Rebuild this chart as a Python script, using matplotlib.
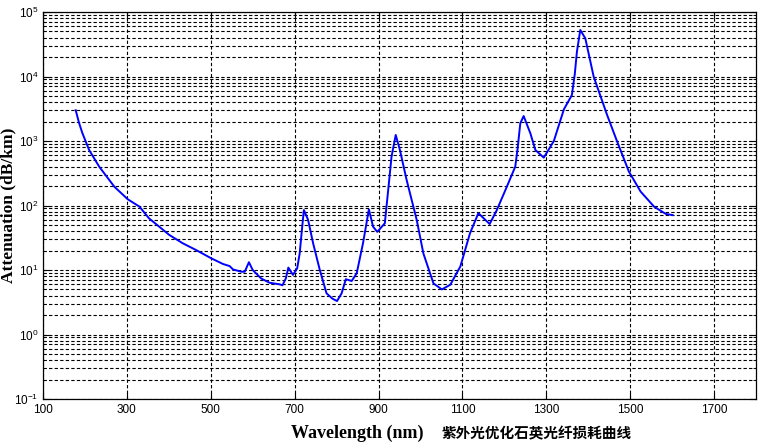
import matplotlib
matplotlib.use("Agg")
import matplotlib.pyplot as plt
from matplotlib.ticker import LogLocator, FixedLocator

# values (nm, dB/km)
wavelength = [178, 186, 194, 210, 234, 270, 302, 330, 353, 377, 401, 433, 465, 501, 529,
              545, 553, 573, 581, 591, 600, 620, 640, 664, 671, 679, 685, 696, 706,
              712, 717, 722, 732, 744, 760, 776, 790, 801, 812, 822, 836, 848, 863, 877,
              887, 897, 915, 924, 931, 941, 951, 967, 991, 1007, 1031, 1051, 1071, 1095,
              1118, 1138, 1165, 1182, 1206, 1226, 1232, 1238, 1246, 1262, 1274, 1294, 1318,
              1342, 1361, 1368, 1373, 1381, 1393, 1413, 1445, 1469, 1497, 1525, 1557, 1585, 1601]
attenuation = [3000, 1900, 1320, 725, 400, 196, 125, 96, 63, 47, 35, 26, 20.4, 15.2, 12.4,
               11.5, 10.2, 9.4, 9.4, 13.2, 10, 7.4, 6.35, 6.0, 5.8, 7.4, 10.9, 8.4, 10.6,
               18, 40, 85, 60, 26, 10, 4.35, 3.6, 3.3, 4.35, 7.2, 6.75, 8.9, 26, 87,
               47, 39, 53, 200, 571, 1240, 725, 249, 60, 18, 6.2, 5.0, 5.9, 11.3,
               37, 76, 51.6, 85, 196, 400, 800, 1880, 2440, 1315, 725, 552, 1000,
               3100, 5160, 11000, 24200, 52600, 39100, 9930, 2530, 977, 335, 164, 96, 74, 71]

x_ticks = [100, 300, 500, 700, 900, 1100, 1300, 1500, 1700]

fig = plt.figure(figsize=(7.76, 4.43), dpi=100)
ax = fig.add_axes([43 / 776, 44 / 443, 713 / 776, 387 / 443])

ax.semilogy(wavelength, attenuation, color="#0000ff", linewidth=1.4)
ax.set_xlim(100, 1800)
ax.set_ylim(0.1, 1e5)

ax.xaxis.set_major_locator(FixedLocator(x_ticks))
ax.yaxis.set_major_locator(LogLocator(base=10, numticks=10))
ax.yaxis.set_minor_locator(LogLocator(base=10, subs=range(2, 10), numticks=10))

grid_style = dict(color="black", linestyle=(0, (3, 2)), linewidth=0.8)
ax.grid(True, which="major", axis="both", **grid_style)
ax.grid(True, which="minor", axis="y", **grid_style)

ax.tick_params(which="both", direction="in", top=True, right=True, labelsize=8.5)
ax.tick_params(which="major", length=4)
ax.tick_params(which="minor", length=2)
for lbl in ax.get_xticklabels() + ax.get_yticklabels():
    lbl.set_fontfamily("Liberation Sans")
for spine in ax.spines.values():
    spine.set_linewidth(0.9)

fig.text(357 / 776, 1 - 433 / 443, "Wavelength (nm)", ha="center", va="center",
         fontsize=13, fontweight="bold", family="Liberation Serif")
fig.text(537 / 776, 1 - 433 / 443, "紫外光优化石英光纤损耗曲线", ha="center", va="center",
         fontsize=10.5, fontweight="bold", family=["Noto Sans CJK SC", "DejaVu Sans"])
fig.text(8 / 776, 1 - 205 / 443, "Attenuation (dB/km)", ha="center", va="center",
         rotation=90, fontsize=12.5, fontweight="bold", family="Liberation Serif")

fig.savefig("out.png", dpi=100)
